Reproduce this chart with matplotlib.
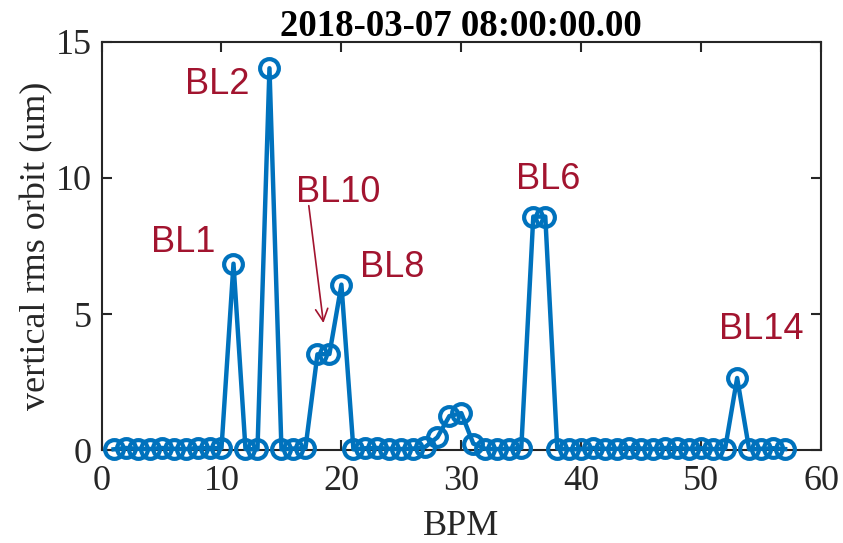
import numpy as np
import matplotlib
matplotlib.use("Agg")
import matplotlib.pyplot as plt

# vertical rms orbit per BPM
bpm = np.arange(1, 58)
rms = [0.03, 0.08, 0.05, 0.04, 0.08, 0.05, 0.04, 0.08, 0.07, 0.08,
       6.85, 0.04, 0.03, 14.03, 0.03, 0.06, 0.07, 3.52, 3.53, 6.08,
       0.03, 0.07, 0.08, 0.05, 0.04, 0.06, 0.12, 0.47, 1.25, 1.36,
       0.24, 0.05, 0.04, 0.05, 0.08, 8.58, 8.58, 0.06, 0.03, 0.04,
       0.08, 0.05, 0.05, 0.08, 0.06, 0.04, 0.08, 0.07, 0.05, 0.07,
       0.04, 0.06, 2.65, 0.03, 0.05, 0.07, 0.04]

# beamline labels (x, baseline y)
labels = ["BL2", "BL1", "BL10", "BL8", "BL6", "BL14"]
label_x = [9.62, 6.8, 19.72, 24.23, 37.22, 55.03]
label_y = [13.09, 7.29, 9.1, 6.35, 9.58, 4.08]

title = "2018-03-07 08:00:00.00"

blue = "#0072BD"
red = "#A2142F"
axcol = "#262626"
serif = "Liberation Serif"

fig = plt.figure(figsize=(8.43, 5.43), dpi=100)
ax = fig.add_axes([0.1205, 0.171, 0.8535, 0.752])

ax.plot(bpm, rms, color=blue, lw=3.2, marker="o", ms=13.5,
        mfc="none", mec=blue, mew=3.0, clip_on=False, zorder=3)

for t, x, y in zip(labels, label_x, label_y):
    ax.text(x, y, t, color=red, fontsize=26, family="Liberation Sans",
            ha="center", va="baseline")

# arrow pointing at the BL10 pair
ax.annotate("", xy=(18.5, 4.67), xytext=(17.28, 8.98),
            arrowprops=dict(arrowstyle="->", color=red, lw=1.2,
                            mutation_scale=22, shrinkA=0, shrinkB=0))

ax.set_xlim(0, 60)
ax.set_ylim(0, 15)
ax.set_xticks([0, 10, 20, 30, 40, 50, 60])
ax.set_yticks([0, 5, 10, 15])

for s in ax.spines.values():
    s.set_color(axcol)
    s.set_linewidth(1.5)
ax.tick_params(direction="in", length=7, width=1.5, color=axcol,
               top=True, right=True, labelsize=26, pad=7,
               labelcolor=axcol)
ax.tick_params(axis="x", pad=11)
for lab in ax.get_xticklabels() + ax.get_yticklabels():
    lab.set_family(serif)

ax.set_xlabel("BPM", family=serif, fontsize=26, color=axcol, labelpad=8)
ax.set_ylabel("vertical rms orbit (um)", family=serif, fontsize=26,
              color=axcol, labelpad=2)
ax.set_title(title, family=serif, fontsize=26.5, fontweight="bold",
             color="black", pad=4)

fig.savefig("out.png", dpi=100)
